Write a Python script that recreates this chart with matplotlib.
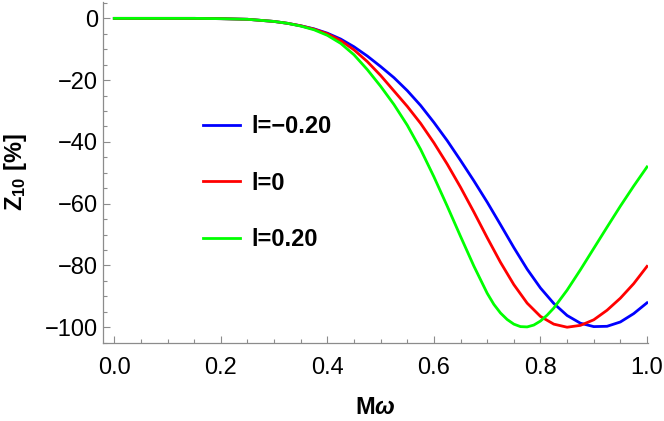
import matplotlib
matplotlib.use("Agg")
import matplotlib.pyplot as plt
from matplotlib.ticker import MultipleLocator, FuncFormatter

# Data
m_omega = [0.0, 0.05, 0.1, 0.15, 0.2, 0.25, 0.3, 0.325, 0.35, 0.375, 0.4, 0.425,
           0.45, 0.475, 0.5, 0.525, 0.55, 0.575, 0.6, 0.625, 0.65, 0.675, 0.7,
           0.725, 0.75, 0.775, 0.8, 0.825, 0.85, 0.875, 0.9, 0.925, 0.95, 0.975, 1.0]

z_l_neg020 = [0, 0, 0, 0, -0.1, -0.3, -1.0, -1.6, -2.4, -3.4, -4.8, -6.7,
              -9.2, -12.2, -15.6, -19.2, -23.4, -28.2, -33.7, -39.6, -46.0, -52.6, -59.5,
              -66.8, -74.2, -81.2, -87.3, -92.3, -96.2, -98.7, -99.8, -99.7, -98.3, -95.6, -92.1]

z_l_0 = [0, 0, 0, 0, -0.1, -0.3, -1.0, -1.6, -2.4, -3.5, -5.0, -7.2,
         -10.2, -14.0, -18.5, -23.5, -28.5, -34.0, -40.3, -47.2, -54.7, -62.7, -71.0,
         -79.0, -86.2, -92.2, -96.5, -99.0, -100.0, -99.4, -97.6, -94.5, -90.6, -85.9, -80.3]

# l=0.20 sampled a little more densely around its minimum
m_omega_pos = [0.0, 0.05, 0.1, 0.15, 0.2, 0.25, 0.3, 0.325, 0.35, 0.375, 0.4, 0.425,
               0.45, 0.475, 0.5, 0.525, 0.55, 0.575, 0.6, 0.625, 0.65, 0.675, 0.7,
               0.7125, 0.725, 0.7375, 0.75, 0.7625, 0.775, 0.7875, 0.8, 0.8125, 0.825,
               0.85, 0.875, 0.9, 0.925, 0.95, 0.975, 1.0]
z_l_pos020 = [0, 0, 0, 0, -0.1, -0.3, -1.0, -1.6, -2.5, -3.7, -5.5, -8.1,
              -11.8, -16.6, -22.0, -27.9, -34.6, -42.4, -51.3, -60.8, -70.6, -80.2, -89.0,
              -92.6, -95.4, -97.5, -99.0, -99.8, -99.9, -99.3, -98.0, -96.1, -93.8,
              -88.0, -81.4, -74.5, -67.6, -60.8, -54.3, -48.1]

labels = ["l=\u22120.20", "l=0", "l=0.20"]
colors = ["#0000ff", "#ff0000", "#00ff00"]

plt.rcParams['font.family'] = ['Liberation Sans', 'DejaVu Sans']
plt.rcParams['mathtext.fontset'] = 'custom'
plt.rcParams['mathtext.rm'] = 'Liberation Sans:bold'
plt.rcParams['mathtext.bf'] = 'Liberation Sans:bold'
plt.rcParams['mathtext.it'] = 'Liberation Sans:bold:italic'

fig = plt.figure(figsize=(6.64, 4.21), dpi=100)
ax = fig.add_axes([0.1556, 0.1846, 0.976 - 0.1556, 0.996 - 0.1846])

series = [(m_omega, z_l_neg020), (m_omega, z_l_0), (m_omega_pos, z_l_pos020)]
for (xs, ys), lab, c in zip(series, labels, colors):
    ax.plot(xs, ys, color=c, lw=2.0, label=lab, solid_joinstyle='round')

ax.set_xlim(-0.0206, 1.002)
ax.set_ylim(-105.2, 5.4)

ax.xaxis.set_major_locator(MultipleLocator(0.2))
ax.xaxis.set_minor_locator(MultipleLocator(0.05))
ax.yaxis.set_major_locator(MultipleLocator(20))
ax.yaxis.set_minor_locator(MultipleLocator(5))
ax.xaxis.set_major_formatter(FuncFormatter(lambda v, p: f"{v:.1f}"))
ax.yaxis.set_major_formatter(FuncFormatter(lambda v, p: f"{int(round(v))}".replace("-", "\u2212")))

for s in ['top', 'right']:
    ax.spines[s].set_visible(False)
for s in ['left', 'bottom']:
    ax.spines[s].set_color('#8c8c8c')
    ax.spines[s].set_linewidth(0.9)

ax.tick_params(which='both', direction='in', color='#8c8c8c', labelsize=17,
               labelcolor='black', width=0.8)
ax.tick_params(which='major', length=5)
ax.tick_params(axis='x', which='major', pad=10)
ax.tick_params(axis='y', which='major', pad=4)
ax.tick_params(which='minor', length=3)

fig.text(0.565, 0.031, r"M$\mathit{\omega}$", fontsize=17, fontweight='bold',
         ha='center', va='center')
fig.text(0.024, 0.591, r"$\mathbf{Z_{10}}$ [%]", fontsize=17, fontweight='bold',
         ha='center', va='center', rotation=90)

leg = ax.legend(loc='upper left', bbox_to_anchor=(203 / 664, 1 - 115 / 421),
                bbox_transform=fig.transFigure, frameon=False, borderpad=0,
                borderaxespad=0, handlelength=1.57, handletextpad=0.47,
                labelspacing=1.42, prop={'weight': 'bold', 'size': 17})

fig.savefig("out.png", dpi=100)
